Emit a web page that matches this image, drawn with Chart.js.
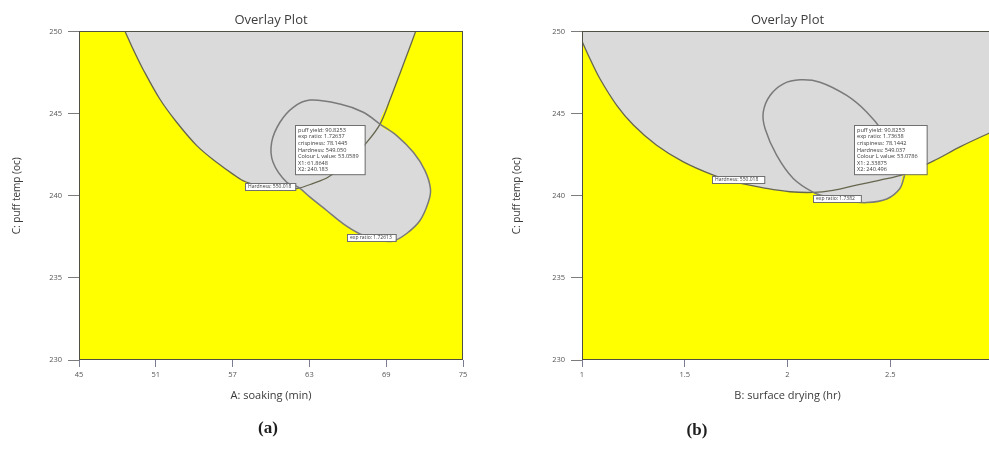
<!DOCTYPE html>
<html><head><meta charset="utf-8">
<script src="https://cdn.jsdelivr.net/npm/chart.js@4.4.0/dist/chart.umd.min.js"></script>
<style>
html,body{margin:0;padding:0;background:#fff;width:989px;height:450px;overflow:hidden;position:relative;}
#ca{position:absolute;left:0;top:0;}
#cb{position:absolute;left:500px;top:0;}
.cap{position:absolute;font:bold 17px "Liberation Serif","DejaVu Serif",serif;color:#1e1e1e;transform:translate(-50%,-50%);white-space:nowrap;}
</style></head><body>
<canvas id="ca" width="480" height="450"></canvas>
<canvas id="cb" width="500" height="450"></canvas>
<div class="cap" style="left:268px;top:428px">(a)</div>
<div class="cap" style="left:697px;top:430px">(b)</div>
<script>
// ---------- Panel (a): A soaking (min) vs C puff temp ----------
const xTicksA = [45, 51, 57, 63, 69, 75];
const yTicks = [230, 235, 240, 245, 250];
// Hardness contour (U shaped), split where the exp-ratio contour crosses it
const aHardLeft = [[48.6,250],[49.3,248.8],[50.0,247.7],[51.3,245.9],[52.6,244.5],[54.2,243.05],[55.8,242.0],[57.05,241.3],[58.0,240.85],[59.5,240.55],[61.0,240.42],[62.1,240.45]];
const aHardInner = [[63.3,240.75],[64.45,241.12],[66.0,242.0],[67.48,243.25]];
const aHardRight = [[68.52,244.36],[69.3,245.85],[70.2,247.7],[70.78,248.9],[71.3,250]];
// exp ratio contour (ellipse)
const aRatioLower = [[63.05,239.91],[64.35,239.10],[65.65,238.29],[66.95,237.68],[68.26,237.33],[69.5,237.23],[70.6,237.7],[71.64,238.49],[72.29,239.60],[72.46,240.41],[72.03,241.53],[71.12,242.64],[69.82,243.66]];
const aRatioUpper = [[68.52,244.36],[67.21,245.08],[65.39,245.58],[63.05,245.82],[61.74,245.38],[60.70,244.47],[60.05,243.25],[60.16,242.04],[61.23,240.82],[62.13,240.52]];
const aFlag = ["puff yield: 90.8253","exp ratio: 1.72637","crispiness: 78.1445","Hardness: 549.050","Colour L value: 53.0589","X1: 61.8648","X2: 240.183"];
const aHardLabel = ["Hardness: 550.018"];
const aRatioLabel = ["exp ratio: 1.72613"];

// ---------- Panel (b): B surface drying (hr) vs C puff temp ----------
const xTicksB = [1, 1.5, 2, 2.5, 3];
const bHardLeft = [[1.0,249.4],[1.04,248.3],[1.088,247.1],[1.169,245.5],[1.25,244.3],[1.363,243.07],[1.493,242.06],[1.639,241.25],[1.736,240.85],[1.899,240.44],[2.012,240.24],[2.126,240.2]];
const bHardInner = [[2.221,240.33],[2.319,240.6],[2.45,240.95]];
const bHardRight = [[2.565,241.3],[2.708,242.1],[2.839,242.97],[2.98,243.8],[3.0,243.9]];
const bRatioLower = [[2.191,239.94],[2.288,239.68],[2.385,239.58],[2.483,239.8],[2.547,240.44]];
const bRatioUpper = [[2.57,241.25],[2.531,242.47],[2.466,243.88],[2.385,245.1],[2.288,246.1],[2.158,246.91],[2.061,247.05],[1.98,246.81],[1.915,246.1],[1.882,245.09],[1.891,244.08],[1.947,242.47],[2.028,241.05],[2.126,240.2]];
const bFlag = ["puff yield: 90.8253","exp ratio: 1.73638","crispiness: 78.1442","Hardness: 549.037","Colour L value: 53.0786","X1: 2.33875","X2: 240.496"];
const bHardLabel = ["Hardness: 550.018"];
const bRatioLabel = ["exp ratio: 1.7382"];

const YELLOW = '#ffff00';
const GREY = '#dadada';
const pts = a => a.map(p => ({x: p[0], y: p[1]}));

const framePlugin = {
  id: 'panelFrame',
  beforeDatasetsDraw(chart) {
    const {ctx, chartArea: a} = chart;
    ctx.save();
    ctx.fillStyle = YELLOW;
    ctx.fillRect(a.left, a.top, a.right - a.left, a.bottom - a.top);
    ctx.restore();
  },
  afterDatasetsDraw(chart, args, opts) {
    const {ctx, chartArea: a} = chart;
    ctx.save();
    ctx.strokeStyle = '#4f4f44';
    ctx.lineWidth = 1;
    ctx.strokeRect(Math.round(a.left) + 0.5, Math.round(a.top) + 0.5, Math.round(a.right - a.left) - 1, Math.round(a.bottom - a.top) - 1);
    const sx = chart.scales.x, sy = chart.scales.y;
    for (const b of opts.boxes) {
      const x = Math.round(sx.getPixelForValue(b.at[0]));
      const y = Math.round(sy.getPixelForValue(b.at[1]));
      ctx.font = b.size + 'px "Open Sans"';
      const lh = b.lh;
      const w = Math.max(...b.lines.map(t => ctx.measureText(t).width)) + b.padW;
      const h = b.lines.length * lh + b.padH;
      ctx.fillStyle = '#ffffff';
      ctx.fillRect(x, y, w, h);
      ctx.strokeStyle = '#707070';
      ctx.strokeRect(x + 0.5, y + 0.5, w, h);
      ctx.fillStyle = '#3a3a3a';
      ctx.textBaseline = 'middle';
      b.lines.forEach((t, i) => ctx.fillText(t, x + 3, y + b.padH / 2 + lh * (i + 0.5) + 0.5));
    }
    ctx.restore();
  }
};

function makePanel(id, o) {
  const poly = [...o.polyStart, ...o.hardLeft, ...o.ratioLower, ...o.hardRight, ...o.polyEnd];
  const hard = [...o.hardLeft, ...o.hardInner, ...o.hardRight];
  const ell = [...o.ratioUpper, ...o.ratioLower, o.ratioUpper[0]];
  return new Chart(document.getElementById(id), {
    type: 'scatter',
    data: {datasets: [
      {label: 'region', data: pts(poly), showLine: true, fill: 'shape', backgroundColor: GREY, borderWidth: 0, borderColor: 'rgba(0,0,0,0)', pointRadius: 0, tension: 0.3, order: 3},
      {label: 'Hardness', data: pts(hard), showLine: true, fill: false, borderColor: '#66664e', borderWidth: 1.3, pointRadius: 0, tension: 0.35, order: 2},
      {label: 'exp ratio', data: pts(ell), showLine: true, fill: false, borderColor: '#7a7a7a', borderWidth: 1.5, pointRadius: 0, tension: 0.35, order: 1}
    ]},
    options: {
      responsive: false, animation: false, devicePixelRatio: 1,
      layout: {padding: {left: 0, right: o.padRight, top: 0, bottom: 42}},
      plugins: {
        legend: {display: false}, tooltip: {enabled: false},
        title: {display: true, text: 'Overlay Plot', fullSize: false, color: '#3d3d3d', font: {family: 'Open Sans', size: 13, weight: 'normal'}, padding: {top: 12.4, bottom: 3.4}},
        panelFrame: {boxes: o.boxes}
      },
      scales: {
        x: {
          type: 'linear', position: 'bottom', min: o.xTicks[0], max: o.xTicks[o.xTicks.length - 1],
          afterBuildTicks: s => { s.ticks = o.xTicks.map(v => ({value: v})); },
          afterFit: s => { s.height = 48; },
          grid: {drawOnChartArea: false, drawTicks: true, tickLength: 7, color: '#7c7c90'},
          border: {display: false},
          ticks: {font: {family: 'Open Sans', size: 7.5}, color: '#555', padding: 3, maxRotation: 0, autoSkip: false, callback: v => String(v)},
          title: {display: true, text: o.xTitle, color: '#3a3a3a', font: {family: 'Open Sans', size: 11}, padding: {top: 0, bottom: 5.6}}
        },
        y: {
          type: 'linear', position: 'left', min: yTicks[0], max: yTicks[yTicks.length - 1],
          afterBuildTicks: s => { s.ticks = yTicks.map(v => ({value: v})); },
          afterFit: s => { s.width = o.yWidth; },
          grid: {drawOnChartArea: false, drawTicks: true, tickLength: 11, color: '#7c7c7c'},
          border: {display: false},
          ticks: {font: {family: 'Open Sans', size: 7.5}, color: '#555', padding: 6, autoSkip: false, callback: v => String(v)},
          title: {display: true, text: 'C: puff temp (oc)', color: '#3a3a3a', font: {family: 'Open Sans', size: 10}, padding: {top: 11.6, bottom: 0}}
        }
      }
    },
    plugins: [framePlugin]
  });
}

makePanel('ca', {
  xTicks: xTicksA, xTitle: 'A: soaking (min)', yWidth: 79, padRight: 17,
  polyStart: [], polyEnd: [],
  hardLeft: aHardLeft, hardInner: aHardInner, hardRight: aHardRight,
  ratioLower: aRatioLower, ratioUpper: aRatioUpper,
  boxes: [
    {at: [61.88, 244.28], lines: aFlag, size: 5.6, lh: 6.6, padW: 9, padH: 3},
    {at: [57.97, 240.76], lines: aHardLabel, size: 5, lh: 5, padW: 7, padH: 2},
    {at: [65.94, 237.66], lines: aRatioLabel, size: 5, lh: 5, padW: 7, padH: 2}
  ]
});

makePanel('cb', {
  xTicks: xTicksB, xTitle: 'B: surface drying (hr)', yWidth: 82, padRight: 7,
  polyStart: [[xTicksB[0], yTicks[yTicks.length - 1]]], polyEnd: [[xTicksB[xTicksB.length - 1], yTicks[yTicks.length - 1]]],
  hardLeft: bHardLeft, hardInner: bHardInner, hardRight: bHardRight,
  ratioLower: bRatioLower, ratioUpper: bRatioUpper,
  boxes: [
    {at: [2.324, 244.28], lines: bFlag, size: 5.6, lh: 6.6, padW: 12, padH: 3},
    {at: [1.633, 241.21], lines: bHardLabel, size: 5, lh: 5, padW: 9, padH: 2},
    {at: [2.124, 240.06], lines: bRatioLabel, size: 5, lh: 5, padW: 9, padH: 2}
  ]
});
</script>
</body></html>
